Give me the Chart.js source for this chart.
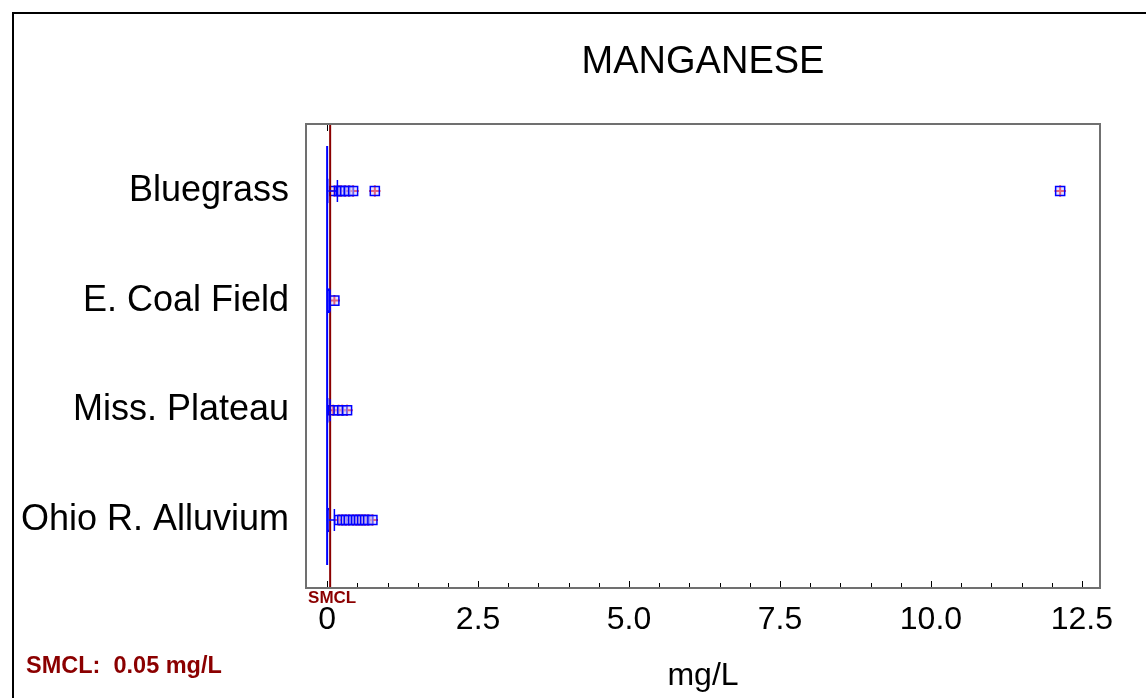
<!DOCTYPE html>
<html>
<head>
<meta charset="utf-8">
<script src="https://cdn.jsdelivr.net/npm/chart.js@4/dist/chart.umd.min.js"></script>
<style>
  body { margin: 0; background: #fff; }
  #wrap { position: relative; width: 1146px; height: 698px; }
  #frame { position: absolute; left: 12px; top: 12px; right: 0; bottom: 0; border-left: 2px solid #000; border-top: 2px solid #000; pointer-events: none; }
</style>
</head>
<body>
<div id="wrap">
  <canvas id="chart" width="1146" height="698"></canvas>
  <div id="frame"></div>
</div>
<script>
// manganese by region (mg/L)
const groups = ['Bluegrass', 'E. Coal Field', 'Miss. Plateau', 'Ohio R. Alluvium']
const boxLow = [0, 0, 0, 0]
const boxHigh = [0.02, 0.05, 0.02, 0.03]
const whiskerHigh = [0.17, 0.05, 0.05, 0.12]
const outliers = [
  [0.12, 0.2, 0.23, 0.3, 0.36, 0.43, 0.79, 12.14],
  [0.12],
  [0.1, 0.19, 0.25, 0.33],
  [0.2, 0.25, 0.31, 0.36, 0.43, 0.48, 0.53, 0.58, 0.63, 0.68, 0.75],
]
const smcl = 0.05
const xTicks = [0, 2.5, 5, 7.5, 10, 12.5]
const xTickLabels = ['0', '2.5', '5.0', '7.5', '10.0', '12.5']
const xMinorStep = 0.5

const BLUE = '#0000ff'
const RED = '#ff0000'
const DARK_RED = '#8b0000'
const FONT = "'Liberation Sans', Arial, sans-serif"

const outlierPoints = outliers.flatMap((vals, i) => vals.map(v => ({ x: v, y: i })))

const whiskerSets = groups.map((g, i) => ({
  type: 'scatter',
  showLine: true,
  data: [
    { x: boxHigh[i], y: i },
    { x: whiskerHigh[i], y: i },
    { x: whiskerHigh[i], y: i - 0.1 },
    { x: whiskerHigh[i], y: i + 0.1 },
  ],
  borderColor: BLUE,
  borderWidth: 1.5,
  pointRadius: 0,
}))

// frame, inner tick marks and free text
const decorations = {
  id: 'decorations',
  afterDraw(chart) {
    const { ctx, chartArea: a, scales: { x } } = chart
    ctx.save()

    ctx.strokeStyle = '#000'
    ctx.lineWidth = 1
    for (let v = 0; v <= xTicks[xTicks.length - 1] + 1e-9; v += xMinorStep) {
      const px = Math.round(x.getPixelForValue(v)) + 0.5
      const len = xTicks.includes(Math.round(v * 10) / 10) ? 7 : 5
      ctx.beginPath()
      ctx.moveTo(px, a.bottom)
      ctx.lineTo(px, a.bottom - len)
      ctx.stroke()
    }
    // single mark on the top edge at zero
    const zx = Math.round(x.getPixelForValue(0)) + 0.5
    ctx.beginPath()
    ctx.moveTo(zx, a.top)
    ctx.lineTo(zx, a.top + 7)
    ctx.stroke()

    ctx.strokeStyle = '#707070'
    ctx.lineWidth = 2
    ctx.strokeRect(a.left, a.top, a.right - a.left, a.bottom - a.top)

    ctx.fillStyle = '#000'
    ctx.textAlign = 'center'
    ctx.textBaseline = 'alphabetic'
    ctx.font = '38px ' + FONT
    ctx.fillText('MANGANESE', (a.left + a.right) / 2, 73)

    ctx.fillStyle = DARK_RED
    ctx.font = 'bold 17px ' + FONT
    ctx.fillText('SMCL', x.getPixelForValue(smcl) + 2, 603)

    ctx.textAlign = 'left'
    ctx.font = 'bold 23.5px ' + FONT
    ctx.fillText('SMCL:  ' + smcl.toFixed(2) + ' mg/L', 26, 673)
    ctx.restore()
  }
}

new Chart(document.getElementById('chart'), {
  type: 'scatter',
  data: {
    datasets: [
      {
        type: 'scatter',
        showLine: true,
        data: [{ x: 0, y: -0.41 }, { x: 0, y: 3.41 }],
        borderColor: BLUE,
        borderWidth: 2,
        pointRadius: 0,
      },
      {
        type: 'bar',
        indexAxis: 'y',
        data: groups.map((g, i) => ({ x: [boxLow[i], boxHigh[i]], y: i })),
        backgroundColor: BLUE,
        borderColor: BLUE,
        borderWidth: 2,
        borderSkipped: false,
        barThickness: 24,
      },
      ...whiskerSets,
      {
        type: 'scatter',
        data: [{ x: smcl, y: -0.62 }, { x: smcl, y: 3.63 }],
        showLine: true,
        borderColor: DARK_RED,
        borderWidth: 2,
        pointRadius: 0,
      },
      {
        type: 'scatter',
        data: outlierPoints,
        pointStyle: 'rect',
        pointRadius: 6.4,
        backgroundColor: 'rgba(200,200,255,0.5)',
        borderColor: BLUE,
        borderWidth: 1.5,
      },
      {
        type: 'scatter',
        data: outlierPoints,
        pointStyle: 'cross',
        pointRadius: 5.5,
        borderColor: RED,
        borderWidth: 2,
      },
    ]
  },
  options: {
    responsive: false,
    animation: false,
    devicePixelRatio: 1,
    layout: { padding: { left: 0, right: 46, top: 124, bottom: 0 } },
    plugins: {
      legend: { display: false },
      tooltip: { enabled: false },
      title: { display: false },
    },
    scales: {
      x: {
        type: 'linear',
        min: -0.35,
        max: 12.8,
        offset: false,
        grid: { display: false, drawTicks: false, offset: false },
        border: { display: false },
        afterBuildTicks: scale => { scale.ticks = xTicks.map(v => ({ value: v })) },
        afterFit: scale => { scale.height = 110 },
        ticks: {
          autoSkip: false,
          maxRotation: 0,
          padding: 13,
          color: '#000',
          font: { family: FONT, size: 32 },
          callback: (v, i) => xTickLabels[i],
        },
        title: {
          display: true,
          text: 'mg/L',
          color: '#000',
          font: { family: FONT, size: 32 },
          padding: { top: 0, bottom: 3 },
        },
      },
      y: {
        type: 'linear',
        reverse: true,
        min: -0.61,
        max: 3.62,
        offset: false,
        grid: { display: false, drawTicks: false, offset: false },
        border: { display: false },
        afterBuildTicks: scale => { scale.ticks = groups.map((g, i) => ({ value: i })) },
        afterFit: scale => { scale.width = 306 },
        ticks: {
          autoSkip: false,
          padding: 17,
          color: '#000',
          font: { family: FONT, size: 36 },
          callback: (v, i) => groups[i],
        },
      },
    },
  },
  plugins: [decorations],
})
</script>
</body>
</html>
